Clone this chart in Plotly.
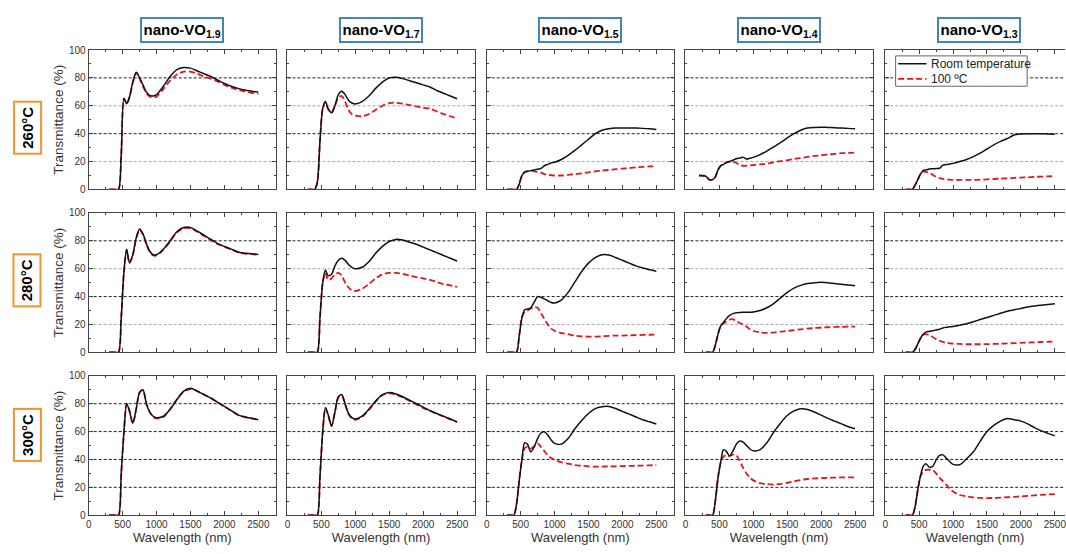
import plotly.graph_objects as go
from plotly.subplots import make_subplots

# ---------------- data ----------------
WAVELENGTH = [200, 300, 350, 400, 440, 480, 520, 560, 600, 650, 700, 750, 800, 850, 900, 950, 1000,
              1100, 1200, 1300, 1400, 1500, 1600, 1700, 1800, 1900, 2000, 2100, 2200, 2300, 2400, 2500]
COMPOSITIONS = ["1.9", "1.7", "1.5", "1.4", "1.3"]
TEMPERATURES = ["260°C", "280°C", "300°C"]
X_TICKS = [0, 500, 1000, 1500, 2000, 2500]
Y_TICKS = [0, 20, 40, 60, 80, 100]
SERIES_NAMES = ["Room temperature", "100 ºC"]

# 260 °C
vo19_260_rt = [None, 0, 0, 0, 0, 25, 65.5, 61.5, 66, 77, 84, 80, 75, 70, 67.5, 67, 68,
               74, 81, 86, 87.5, 87, 85, 83, 81, 78.5, 76, 74, 72.5, 71.3, 70.5, 69.8]
vo19_260_hot = [None, 0, 0, 0, 0, 25, 65, 61.5, 66, 76.5, 83.5, 79.5, 74, 69, 66.5, 66, 66.5,
                72, 78, 82.5, 84.5, 84.5, 83, 81, 79.5, 77.5, 75, 73, 71.5, 70.3, 69.3, 68.8]
vo17_260_rt = [None, 0, 0, 0, 5, 35, 58, 63, 58, 55, 60, 68, 70.5, 68, 64, 62, 61.3,
               63, 67, 72.5, 77, 80, 80.5, 79.5, 78, 76.5, 75, 73.5, 71, 69, 67, 65]
vo17_260_hot = [None, 0, 0, 0, 5, 35, 58, 62.5, 57.5, 55, 60, 66, 67, 63, 57, 54, 53,
                52.5, 54, 57, 60, 62, 62.2, 61.5, 60.5, 59.5, 58.5, 58, 56, 54, 52.5, 51]
vo15_260_rt = [None, 0, 0, 0, 0, 4, 10, 12.5, 13, 13.5, 14, 14.5, 15, 17, 18, 19, 19.5,
               21.5, 24.5, 28, 32, 36, 40, 42.5, 43.5, 44, 44, 44, 44, 43.8, 43.5, 43]
vo15_260_hot = [None, 0, 0, 0, 0, 4, 10, 12.5, 13, 13.5, 13, 12.5, 12, 11, 10.5, 10.2, 10,
                10, 10.5, 11, 11.5, 12.3, 13, 13.5, 14, 14.5, 15, 15.3, 15.8, 16.2, 16.5, 17]
vo14_260_rt = [10, 9.5, 7, 7, 9, 14, 17, 18, 19, 20, 21, 22, 22.5, 23, 21.8, 22.3, 23,
               25, 27.5, 30.5, 33.5, 37, 40, 42.5, 44, 44.5, 44.7, 44.5, 44.3, 44, 43.8, 43.5]
vo14_260_hot = [10, 9.5, 7, 7, 9, 14, 17, 18, 19.5, 20, 20, 19, 17.5, 17, 17, 17.2, 17.5,
                18, 18.5, 19.5, 20.3, 21, 22, 22.5, 23.3, 24, 24.5, 25, 25.5, 26, 26.3, 26.5]
vo13_260_rt = [None, 0, 0, 0, 3, 7, 11, 13.5, 14, 14.6, 14.8, 15, 15.2, 17.4, 17.8, 18.3, 18.7,
               20, 21.5, 23.5, 26, 29, 32, 34.5, 36.5, 39, 39.8, 40, 40, 40, 39.8, 39.6]
vo13_260_hot = [None, 0, 0, 0, 3, 7, 11, 13, 12.5, 12, 10.5, 9, 8.2, 7.5, 7.2, 7, 6.8,
                6.8, 6.8, 6.8, 7, 7.2, 7.5, 7.8, 8, 8.3, 8.5, 8.7, 9, 9.2, 9.4, 9.5]

# 280 °C
vo19_280_rt = [None, 0, 0, 0, 0, 25, 58, 74, 64.5, 70, 82, 88.5, 85, 78, 72.5, 70, 70,
               74, 80, 86.5, 89.5, 89.5, 87, 84, 81, 78, 76, 74, 72, 71, 70.8, 70.2]
vo19_280_hot = [None, 0, 0, 0, 0, 25, 58, 73.5, 64, 69.5, 81.5, 88, 84.5, 77.5, 72, 69.5, 69.5,
                73.5, 79.5, 86, 89, 89, 86.5, 83.5, 80.5, 77.7, 75.7, 73.8, 71.8, 70.8, 70.5, 70]
vo17_280_rt = [None, 0, 0, 0, 0, 25, 50, 59, 55, 56, 62, 66, 67.5, 66, 63, 61, 60,
               61, 65, 71, 76, 79.5, 81, 80.5, 79, 77.5, 75.5, 73.5, 71.5, 69.5, 67.5, 65.5]
vo17_280_hot = [None, 0, 0, 0, 0, 25, 50, 57, 52, 53, 56, 57, 55, 50, 46.5, 44.5, 44,
                45.5, 49, 53, 56, 57, 57, 56.3, 55, 54, 53, 52, 50.5, 49, 48, 47]
vo15_280_rt = [None, 0, 0, 0, 0, 12, 25, 30.5, 31, 32, 36, 40, 39.5, 38.3, 37, 35.7, 35.4,
               37.5, 43, 50.5, 58, 64, 68, 70, 69.8, 68, 66, 64, 62, 60.5, 59.3, 58.2]
vo15_280_hot = [None, 0, 0, 0, 0, 12, 25, 29, 30, 31.5, 32.5, 32, 28, 24, 20, 17, 15.5,
                13.8, 13, 12, 11.5, 11.3, 11.3, 11.5, 11.8, 12, 12, 12.2, 12.3, 12.5, 12.6, 12.7]
vo14_280_rt = [None, 0, 0, 0, 5, 13, 19, 21.5, 24, 26.5, 27.8, 28.4, 28.6, 28.7, 28.7, 28.8, 29,
               30, 32, 35, 39, 43, 46, 48, 49.3, 50, 50.2, 50, 49.3, 48.8, 48.3, 47.7]
vo14_280_hot = [None, 0, 0, 0, 5, 13, 19, 20.5, 22, 23.5, 23.7, 22.5, 21, 20, 18.5, 16.5, 15.3,
                14.3, 14, 14.2, 14.8, 15.3, 16, 16.5, 17, 17.4, 17.8, 18, 18.2, 18.3, 18.4, 18.5]
vo13_280_rt = [None, 0, 0, 0, 2, 6, 10, 13, 14.5, 15, 15.5, 16, 16.5, 17.5, 18, 18.3, 18.6,
               19.5, 20.5, 22, 23.5, 25, 26.5, 28, 29.5, 30.5, 31.5, 32.5, 33.2, 33.8, 34.3, 34.8]
vo13_280_hot = [None, 0, 0, 0, 2, 6, 10, 12.5, 13, 12.3, 11, 9.5, 8.3, 7.5, 7, 6.5, 6.3,
                6, 5.8, 5.8, 5.8, 5.9, 6, 6.2, 6.4, 6.6, 6.8, 7, 7.2, 7.4, 7.6, 7.8]

# 300 °C
vo19_300_rt = [None, 0, 0, 0, 0, 30, 60, 80, 75, 66, 76, 88, 90, 80, 74, 71, 70,
               71, 76, 83, 89, 91, 89, 86.5, 84, 81, 78, 75, 72, 70.5, 69.5, 68.5]
vo19_300_hot = [None, 0, 0, 0, 0, 30, 60, 80, 75, 66, 76, 88, 89.5, 80, 74, 70.5, 69.5,
                70.5, 76, 83, 88.5, 90.5, 89, 86.5, 84, 81, 78, 75, 72, 70.5, 69.5, 68.5]
vo17_300_rt = [None, 0, 0, 0, 0, 28, 60, 77, 72, 64, 74, 85, 86.5, 80, 73, 70, 69,
               71, 76, 82, 86.5, 88, 87, 85, 82.5, 80, 77.5, 75, 73, 71, 69, 67]
vo17_300_hot = [None, 0, 0, 0, 0, 28, 60, 77, 72, 64, 74, 84.5, 86, 79.5, 72.5, 69.5, 68.5,
                70.5, 75.5, 81.5, 86, 87.5, 86.5, 84.5, 82, 79.5, 77, 74.8, 72.8, 70.8, 68.8, 66.8]
vo15_300_rt = [None, 0, 0, 0, 8, 25, 40, 52, 51, 45.5, 49, 55, 59, 59.8, 57.5, 54, 51.5,
               51, 55, 62, 68, 73, 76.5, 77.8, 78, 76.5, 74.5, 72.5, 70.5, 68.5, 67, 65.5]
vo15_300_hot = [None, 0, 0, 0, 8, 25, 40, 48, 49, 47.8, 49.5, 51.5, 49, 46, 43, 41, 39.8,
                38, 37, 36, 35.5, 35, 34.9, 34.9, 35, 35.1, 35.2, 35.4, 35.5, 35.6, 35.8, 35.9]
vo14_300_rt = [None, 0, 0, 0, 10, 27, 38, 47, 46, 42.5, 46, 51, 53.3, 52.5, 50, 47.5, 46.2,
               47, 52, 59.5, 66, 71.5, 74.8, 76.3, 75.8, 74, 71.8, 69.5, 67.5, 65.5, 63.5, 62]
vo14_300_hot = [None, 0, 0, 0, 10, 27, 38, 42, 43, 42.5, 43.5, 43, 39, 34, 30, 27, 25,
                23, 22.3, 22, 22.5, 23.3, 24.3, 25.3, 26, 26.4, 26.6, 26.8, 27, 27.1, 27.2, 27.2]
vo13_300_rt = [None, 0, 0, 0, 6, 18, 28, 35, 37, 34.5, 35, 39.5, 43, 43.3, 41, 38.5, 36.5,
               36.3, 40.5, 45.5, 53, 60, 64.5, 67.5, 69.3, 68.5, 67.5, 65.5, 62.8, 60.5, 58.7, 57]
vo13_300_hot = [None, 0, 0, 0, 6, 18, 28, 31, 32.5, 32.6, 32.5, 30, 27, 24.5, 22, 19, 17,
                14.5, 13.5, 12.8, 12.4, 12.3, 12.4, 12.6, 12.9, 13.2, 13.5, 13.9, 14.3, 14.6, 14.9, 15.1]

PANELS = [
    [(vo19_260_rt, vo19_260_hot), (vo17_260_rt, vo17_260_hot), (vo15_260_rt, vo15_260_hot),
     (vo14_260_rt, vo14_260_hot), (vo13_260_rt, vo13_260_hot)],
    [(vo19_280_rt, vo19_280_hot), (vo17_280_rt, vo17_280_hot), (vo15_280_rt, vo15_280_hot),
     (vo14_280_rt, vo14_280_hot), (vo13_280_rt, vo13_280_hot)],
    [(vo19_300_rt, vo19_300_hot), (vo17_300_rt, vo17_300_hot), (vo15_300_rt, vo15_300_hot),
     (vo14_300_rt, vo14_300_hot), (vo13_300_rt, vo13_300_hot)],
]

# ---------------- layout geometry (pixels) ----------------
W, H = 1066, 554
COL_LEFT = [86, 285.5, 485.5, 685, 885.5]
PANEL_W = 188
ROW_TOP = [45, 211.5, 378]
PANEL_H = 142.5
X_SPAN = 2760  # data span covered by one full panel width

FONT = "Liberation Sans, Arial, sans-serif"
AXIS_COLOR = "#444444"
TICK_FONT = dict(family=FONT, size=10, color="#333333")
RT_LINE = dict(color="#111111", width=1.5)
HOT_LINE = dict(color="#e3161d", width=1.8, dash="6px,3px")

fig = make_subplots(rows=3, cols=5)

for r in range(3):
    for c in range(5):
        n = r * 5 + c + 1
        rt, hot = PANELS[r][c]
        fig.add_trace(go.Scatter(
            x=WAVELENGTH, y=hot, mode="lines", name=SERIES_NAMES[1],
            line=dict(**HOT_LINE, shape="spline", smoothing=0.8),
            showlegend=False, hoverinfo="skip"), row=r + 1, col=c + 1)
        fig.add_trace(go.Scatter(
            x=WAVELENGTH, y=rt, mode="lines", name=SERIES_NAMES[0],
            line=dict(**RT_LINE, shape="spline", smoothing=0.8),
            showlegend=False, hoverinfo="skip"), row=r + 1, col=c + 1)

        left = COL_LEFT[c]
        right = min(left + PANEL_W, W)
        xmax = (right - left) / PANEL_W * X_SPAN
        top = ROW_TOP[r]
        bottom = top + PANEL_H
        xa = "xaxis" if n == 1 else f"xaxis{n}"
        ya = "yaxis" if n == 1 else f"yaxis{n}"
        fig.layout[xa].update(
            domain=[left / W, right / W], range=[0, xmax],
            tickvals=X_TICKS, showticklabels=(r == 2), tickfont=TICK_FONT,
            ticklabeloverflow="allow",
            ticks="inside", ticklen=4, tickcolor=AXIS_COLOR,
            minor=dict(dtick=250, ticks="inside", ticklen=2, tickcolor=AXIS_COLOR),
            showline=True, linecolor=AXIS_COLOR, linewidth=1, mirror="ticks",
            showgrid=False, zeroline=False, fixedrange=True,
        )
        if r == 2:
            fig.layout[xa].title = dict(text="Wavelength (nm)",
                                        font=dict(family=FONT, size=13, color="#333333"), standoff=3)
        fig.layout[ya].update(
            domain=[1 - bottom / H, 1 - top / H], range=[0, 100],
            tickvals=Y_TICKS, showticklabels=(c == 0), tickfont=TICK_FONT,
            ticks="inside", ticklen=4, tickcolor=AXIS_COLOR,
            minor=dict(dtick=10, ticks="inside", ticklen=2, tickcolor=AXIS_COLOR),
            showline=True, linecolor=AXIS_COLOR, linewidth=1,
            mirror=("ticks" if c < 4 else False),
            showgrid=False, zeroline=False, fixedrange=True,
        )
        if c == 0:
            fig.layout[ya].title = dict(text="Transmittance (%)",
                                        font=dict(family=FONT, size=13.5, color="#333333"), standoff=2)
        xref = "x domain" if n == 1 else f"x{n} domain"
        yref = "y" if n == 1 else f"y{n}"
        for gv in [20, 40, 60, 80]:
            dark = (r == 2) or gv in (40, 80)
            fig.add_shape(type="line", xref=xref, yref=yref, x0=0, x1=1, y0=gv, y1=gv,
                          line=dict(color="#222222" if dark else "#a8a8a8", width=1,
                                    dash="3px,2px"), layer="below")

# column headers
for c, comp in enumerate(COMPOSITIONS):
    cx = (COL_LEFT[c] + PANEL_W / 2) / W
    fig.add_annotation(
        x=cx, y=1 - 24.5 / H, xref="paper", yref="paper", showarrow=False,
        text=f"<b>nano-VO<sub>{comp}</sub></b>",
        font=dict(family=FONT, size=15, color="#000000"),
        bordercolor="#4683b7", borderwidth=2, borderpad=1.5, bgcolor="white",
        xanchor="center", yanchor="middle")

# row labels
ROW_LABEL_Y = [124, 280, 438]
for r, temp in enumerate(TEMPERATURES):
    fig.add_annotation(
        x=24.5 / W, y=1 - ROW_LABEL_Y[r] / H, xref="paper", yref="paper", showarrow=False,
        text=f"<b>{temp}</b>", textangle=-90,
        font=dict(family=FONT, size=15, color="#000000"),
        bordercolor="#f0952c", borderwidth=2, borderpad=4, bgcolor="white",
        xanchor="center", yanchor="middle")

# legend (drawn inside the top-right panel, pixel positions)
def px(xp):
    return xp / W

def py(yp):
    return 1 - yp / H

fig.add_shape(type="rect", xref="paper", yref="paper",
              x0=px(896), x1=px(1028), y0=py(51), y1=py(82),
              line=dict(color="#666666", width=1), fillcolor="white", layer="above")
LEGEND_ROWS = [(59, RT_LINE, SERIES_NAMES[0]), (74.5, HOT_LINE, SERIES_NAMES[1])]
for ly, lstyle, lname in LEGEND_ROWS:
    fig.add_shape(type="line", xref="paper", yref="paper",
                  x0=px(898.5), x1=px(927), y0=py(ly), y1=py(ly), line=lstyle, layer="above")
    fig.add_annotation(x=px(929.5), y=py(ly), xref="paper", yref="paper", showarrow=False,
                       text=lname, xanchor="left", yanchor="middle",
                       font=dict(family=FONT, size=12, color="#222222"))

fig.update_layout(
    width=W, height=H, margin=dict(l=0, r=0, t=0, b=0),
    paper_bgcolor="white", plot_bgcolor="white",
    font=dict(family=FONT, color="#333333"),
    showlegend=False,
)

fig.write_html("out.html")
